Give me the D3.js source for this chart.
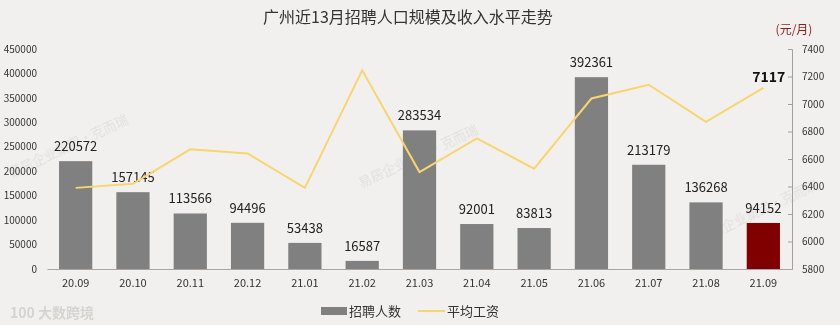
<!DOCTYPE html>
<html>
<head>
<meta charset="utf-8">
<script src="https://cdn.jsdelivr.net/npm/d3@7"></script>
<style>
  body { margin: 0; background: #f1f0ee; }
  svg { display: block; font-family: "Noto Sans CJK SC", "Noto Sans", sans-serif; }
</style>
</head>
<body>
<svg id="chart" width="840" height="325"></svg>
<script>
var MONTHS = ["20.09", "20.10", "20.11", "20.12", "21.01", "21.02", "21.03", "21.04", "21.05", "21.06", "21.07", "21.08", "21.09"];
var HIRES = [220572, 157145, 113566, 94496, 53438, 16587, 283534, 92001, 83813, 392361, 213179, 136268, 94152];
var SALARY = [6390, 6420, 6670, 6640, 6390, 7245, 6505, 6750, 6530, 7040, 7140, 6870, 7117];
var LEFT_TICKS = [0, 50000, 100000, 150000, 200000, 250000, 300000, 350000, 400000, 450000];
var RIGHT_TICKS = [5800, 6000, 6200, 6400, 6600, 6800, 7000, 7200, 7400];

document.addEventListener("DOMContentLoaded", function() {
  drawChart();
})

function drawChart() {
  var svg = d3.select("#chart");
  var left = 47, right = 792, top = 49, bottom = 269;

  var x = d3.scaleBand()
    .domain(MONTHS)
    .range([left, right])
    .paddingInner(0.42)
    .paddingOuter(0.21);

  var yL = d3.scaleLinear().domain([0, 450000]).range([bottom, top]);
  var yR = d3.scaleLinear().domain([5800, 7400]).range([bottom, top]);

  // faint watermarks
  var wm = svg.append("g").attr("fill", "#c8c4c4").attr("opacity", 0.35)
    .attr("font-size", 13);
  [[70, 150], [420, 160], [760, 215]].forEach(function(p) {
    wm.append("text")
      .attr("transform", "translate(" + p[0] + "," + p[1] + ") rotate(-25)")
      .attr("text-anchor", "middle")
      .text("易居企业集团·克而瑞");
  });
  svg.append("text")
    .attr("x", 10).attr("y", 318)
    .attr("font-size", 14)
    .attr("fill", "#d6d3d0")
    .attr("font-weight", "bold")
    .text("100 大数跨境");

  // title
  svg.append("text")
    .attr("x", 408).attr("y", 23)
    .attr("text-anchor", "middle")
    .attr("font-size", 16)
    .attr("fill", "#333")
    .text("广州近13月招聘人口规模及收入水平走势");

  // left axis (labels only)
  svg.append("g")
    .attr("transform", "translate(" + (left - 8) + ",0)")
    .call(d3.axisLeft(yL).tickValues(LEFT_TICKS).tickFormat(d3.format("d")).tickSize(0).tickPadding(2))
    .call(function(g) {
      g.select(".domain").remove();
      g.selectAll("text").attr("font-size", 10).attr("fill", "#333")
        .attr("font-family", "\"Noto Sans CJK SC\", sans-serif");
    });

  // right axis
  svg.append("g")
    .attr("transform", "translate(" + right + ",0)")
    .call(d3.axisRight(yR).tickValues(RIGHT_TICKS).tickFormat(d3.format("d")).tickSizeInner(-4).tickSizeOuter(-4).tickPadding(10))
    .call(function(g) {
      g.select(".domain").attr("stroke", "#a0a0a0");
      g.selectAll(".tick line").attr("stroke", "#a0a0a0");
      g.selectAll("text").attr("font-size", 10).attr("fill", "#333")
        .attr("font-family", "\"Noto Sans CJK SC\", sans-serif");
    });

  svg.append("text")
    .attr("x", 794).attr("y", 34)
    .attr("text-anchor", "middle")
    .attr("font-size", 12)
    .attr("fill", "#8b1c1c")
    .text("(元/月)");

  // bars
  svg.append("g").selectAll("rect")
    .data(HIRES)
    .enter()
    .append("rect")
    .attr("x", (d, i) => x(MONTHS[i]))
    .attr("y", (d) => yL(d))
    .attr("width", x.bandwidth())
    .attr("height", (d) => bottom - yL(d))
    .attr("fill", (d, i) => i === HIRES.length - 1 ? "#800000" : "#808080");

  // x axis
  svg.append("g")
    .attr("transform", "translate(0," + bottom + ")")
    .call(d3.axisBottom(x).tickSize(0).tickPadding(10))
    .call(function(g) {
      g.select(".domain").attr("stroke", "#a6a6a6").attr("stroke-width", 1.2);
      g.selectAll("text").attr("font-size", 11).attr("fill", "#333")
        .attr("font-family", "\"Noto Sans CJK SC\", sans-serif");
    });

  // bar labels
  svg.append("g").selectAll("text")
    .data(HIRES)
    .enter()
    .append("text")
    .attr("x", (d, i) => x(MONTHS[i]) + x.bandwidth() / 2)
    .attr("y", (d) => yL(d) - 10)
    .attr("text-anchor", "middle")
    .attr("font-size", 13)
    .attr("fill", "#222")
    .text((d) => d);

  // salary line
  var line = d3.line()
    .x((d, i) => x(MONTHS[i]) + x.bandwidth() / 2)
    .y((d) => yR(d));

  svg.append("path")
    .datum(SALARY)
    .attr("d", line)
    .attr("fill", "none")
    .attr("stroke", "#f8d56e")
    .attr("stroke-width", 2);

  var last = SALARY.length - 1;
  svg.append("text")
    .attr("x", x(MONTHS[last]) + x.bandwidth() / 2 + 22)
    .attr("y", yR(SALARY[last]) - 6)
    .attr("text-anchor", "end")
    .attr("font-size", 14)
    .attr("font-weight", "bold")
    .attr("fill", "#111")
    .text(SALARY[last]);

  // legend
  var lg = svg.append("g").attr("font-size", 13).attr("fill", "#333");
  lg.append("rect").attr("x", 321).attr("y", 307).attr("width", 26).attr("height", 8).attr("fill", "#808080");
  lg.append("text").attr("x", 349).attr("y", 316).text("招聘人数");
  lg.append("line").attr("x1", 418).attr("x2", 445).attr("y1", 311).attr("y2", 311)
    .attr("stroke", "#f8d56e").attr("stroke-width", 2);
  lg.append("text").attr("x", 447).attr("y", 316).text("平均工资");
}
</script>
</body>
</html>
